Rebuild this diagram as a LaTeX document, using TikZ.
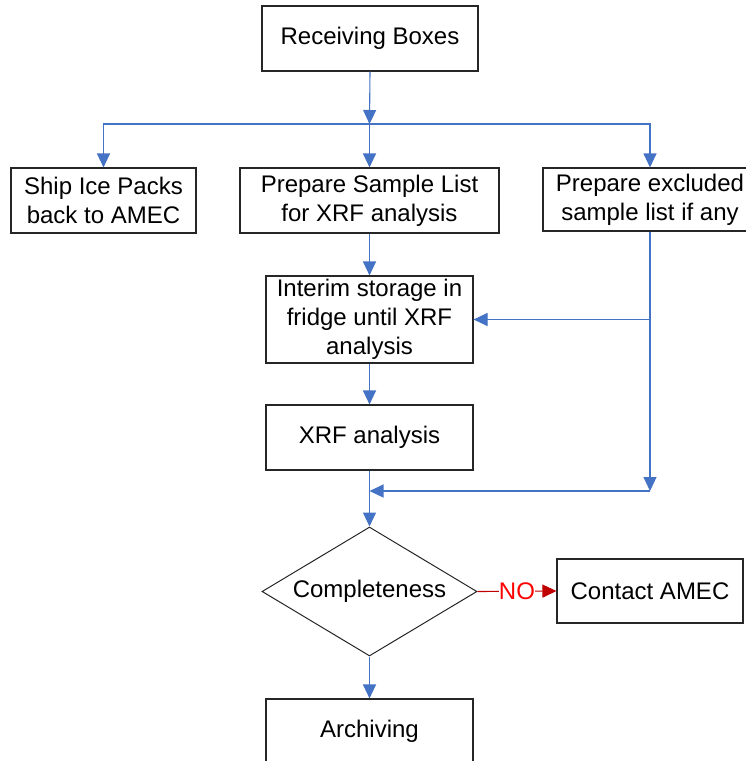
\documentclass[tikz,border=0pt]{standalone}
\usepackage{fontspec}
\setmainfont{Liberation Sans}
\usetikzlibrary{shapes.geometric,arrows.meta}
\definecolor{flowblue}{HTML}{4472C4}
\definecolor{nored}{HTML}{C00000}
\definecolor{notext}{HTML}{FF0000}
\begin{document}
\begin{tikzpicture}[x=1pt,y=-1pt,
  box/.style={draw=black!85, line width=1.1pt, rectangle, inner sep=0pt, align=center,
              font=\fontsize{24}{29}\selectfont},
  decision/.style={draw=black!85, line width=1pt, diamond, inner sep=0pt, aspect=1.67,
              minimum width=215pt, minimum height=129pt, font=\fontsize{24}{29}\selectfont},
  link/.style={draw=flowblue, line width=1.1pt},
  arr/.style={link, -{Triangle[width=13pt,length=14pt]}},
  noarr/.style={draw=nored, line width=1.1pt, -{Triangle[width=13pt,length=14pt]}},
  nolabel/.style={fill=white, inner sep=0pt, text=notext, font=\fontsize{24}{29}\selectfont}]
\useasboundingbox (0,0) rectangle (746,761);
\clip (0,0) rectangle (746,761);

% nodes
\node[box, minimum width=216pt, minimum height=65pt] (recv) at (370,38.5) {Receiving Boxes};
\node[box, minimum width=185pt, minimum height=65pt] (ship) at (103.5,200.5) {Ship Ice Packs\\back to AMEC};
\node[box, minimum width=259pt, minimum height=65pt] (prep) at (369.5,200.5) {Prepare Sample List\\for XRF analysis};
\node[box, minimum width=214pt, minimum height=63pt] (excl) at (650,199.5) {Prepare excluded\\sample list if any};
\node[box, minimum width=207pt, minimum height=87pt] (interim) at (369.5,319.5) {Interim storage in\\fridge until XRF\\analysis};
\node[box, minimum width=207pt, minimum height=65pt] (xrf) at (369.5,437.5) {XRF analysis};
\node[decision] (comp) at (369.5,591.5) {Completeness};
\node[box, minimum width=186pt, minimum height=64pt] (contact) at (650,591) {Contact AMEC};
\node[box, minimum width=207pt, minimum height=65pt] (arch) at (369.5,731.5) {Archiving};

% junction coordinates
\coordinate (split) at (369.5,124);
\coordinate (tapR) at (650,319.5);
\coordinate (joinR) at (650,491);
\coordinate (joinL) at (369.5,491);

% connectors
\draw[arr] (recv.south) -- (split);
\draw[arr] (split) -| (ship.north);
\draw[arr] (split) -- (prep.north);
\draw[arr] (split) -| (excl.north);
\draw[arr] (prep.south) -- (interim.north);
\draw[arr] (excl.south) -- (joinR);
\draw[arr] (tapR) -- (interim.east);
\draw[arr] (interim.south) -- (xrf.north);
\draw[arr] (joinR) -- (joinL);
\draw[arr] (xrf.south) -- (comp.north);
\draw[arr] (comp.south) -- (arch.north);
\draw[noarr] (comp.east) -- node[nolabel] (no) {NO} (contact.west);
\end{tikzpicture}
\end{document}
